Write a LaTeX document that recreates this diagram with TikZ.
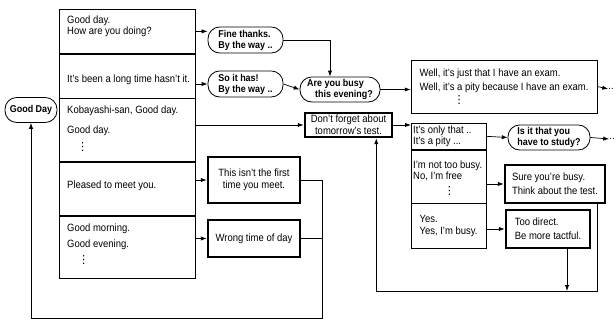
\documentclass[tikz,border=0pt]{standalone}
\usepackage{fontspec}
\setmainfont{Liberation Sans}[FakeStretch=0.9]
\newfontfamily\symfont{DejaVu Sans}
\usetikzlibrary{arrows.meta,calc,positioning}
\newcommand{\vdotsx}{{\symfont\fontsize{9.5}{10}\selectfont ⋮}}
\begin{document}
\begin{tikzpicture}[x=0.03cm,y=-0.03cm,
  every node/.style={font=\fontsize{9}{10}\selectfont,inner sep=0pt},
  cell/.style={draw,line width=0.6pt,anchor=north west},
  txt/.style={align=left},
  bubble/.style={draw,line width=0.7pt,rounded corners=0.35cm,align=left,font=\bfseries\fontsize{8.5}{9.5}\selectfont},
  warnbox/.style={draw,line width=2.2pt,align=center},
  arr/.style={-{Latex[length=5pt,width=3.6pt]},line width=0.6pt},
  link/.style={line width=0.6pt}]
\useasboundingbox (0,0) rectangle (616,321);
\node[cell,minimum width=4.08cm,minimum height=1.32cm] (r1) at (59,9) {};
\node[cell,minimum width=4.08cm,minimum height=1.32cm] (r2) at (r1.south west) {};
\node[cell,minimum width=4.08cm,minimum height=1.89cm] (r3) at (r2.south west) {};
\node[cell,minimum width=4.08cm,minimum height=1.59cm] (r4) at (r3.south west) {};
\node[cell,minimum width=4.08cm,minimum height=1.86cm] (r5) at (r4.south west) {};
\node[txt,right=0.24cm of r1.west,yshift=0.15cm] (t1) {Good day.\\How are you doing?};
\node[txt,right=0.24cm of r2.west,yshift=-0.12cm] (t2) {It's been a long time hasn't it.};
\node[txt,right=0.24cm of r3.west,yshift=0.05cm] (t3) {Kobayashi-san, Good day.\\[7pt]Good day.\\[4.5pt]\hspace*{0.3cm}\vdotsx};
\node[txt,right=0.24cm of r4.west,yshift=0.1cm] (t4) {Pleased to meet you.};
\node[txt,right=0.24cm of r5.west,yshift=0.1cm] (t5) {Good morning.\\[4pt]Good evening.\\[3.5pt]\hspace*{0.33cm}\vdotsx};
\node[bubble,align=center,minimum width=1.56cm,minimum height=0.75cm] (gd) at (31,110) {Good Day};
\node[bubble,minimum width=2.25cm,minimum height=0.78cm] (ft) at (245.5,40) {Fine thanks.\\By the way ..};
\node[bubble,minimum width=2.25cm,minimum height=0.78cm] (sh) at (245.5,84) {So it has!\\By the way ..};
\node[bubble,minimum width=2.4cm,minimum height=0.75cm] (ay) at (340,89.5) {Are you busy\\\hspace*{0.24cm}this evening?};
\node[warnbox,minimum width=2.61cm,minimum height=0.72cm] (df) at (348.5,125) {Don't forget about\\tomorrow's test.};
\node[draw,line width=0.6pt,align=left,minimum width=5.58cm,minimum height=1.59cm] (wb) at (504,86.5) {Well, it's just that I have an exam.\\[2pt]Well, it's a pity because I have an exam.\\[1pt]\hspace*{1.02cm}\vdotsx};
\node (d1) at (611,89) {..};
\node[cell,minimum width=2.25cm,minimum height=0.78cm] (ma) at (411,123) {};
\node[cell,minimum width=2.25cm,minimum height=1.59cm] (mb) at (ma.south west) {};
\node[cell,minimum width=2.25cm,minimum height=1.35cm] (mc) at (mb.south west) {};
\node[txt,right=0.06cm of ma.west] (ta) {It's only that ..\\It's a pity ...};
\node[txt,right=0.06cm of mb.west,yshift=-0.05cm] (tb) {I'm not too busy.\\No, I'm free\\[3pt]\hspace*{0.92cm}\vdotsx};
\node[txt,right=0.25cm of mc.west] (tc) {Yes.\\Yes, I'm busy.};
\node[bubble,minimum width=2.46cm,minimum height=0.75cm] (it) at (549,137.5) {Is it that you\\have to study?};
\node (d2) at (612,139) {..};
\node[warnbox,align=left,minimum width=3cm,minimum height=1.14cm] (sb) at (555,184) {Sure you're busy.\\[2pt]Think about the test.};
\node[warnbox,align=left,minimum width=2.52cm,minimum height=1.14cm] (td) at (548,229) {Too direct.\\[2pt]Be more tactful.};
\node[warnbox,minimum width=2.76cm,minimum height=1.38cm] (tf) at (254,180) {This isn't the first\\time you meet.};
\node[warnbox,minimum width=2.76cm,minimum height=1.11cm] (wt) at (254,238.5) {Wrong time of day};
\draw[arr] (r1.east) -- (r1.east -| ft.west);
\draw[arr] (sh.west -| r2.east) -- (sh.west);
\draw[arr] (df.west -| r3.east) -- (df.west);
\draw[arr] (tf.west -| r4.east) -- (tf.west);
\draw[arr] (wt.west -| r5.east) -- (wt.west);
\draw[arr] (ft.east) -| ([xshift=-0.3cm]ay.north);
\draw[arr] (sh.east) -- (ay.west);
\draw[arr] (ay.east) -- (ay.east -| wb.west);
\draw[arr] (wb.east) -- (d1.west);
\draw[arr] (df.east) -- (df.east -| ma.west);
\draw[arr] (ma.east) -- (it.west);
\draw[arr] (it.east) -- (d2.west);
\draw[arr] (sb.west -| mb.east) -- (sb.west);
\draw[arr] (td.west -| mc.east) -- (td.west);
\coordinate (lb) at (322,318);
\draw[arr] (tf.east) -| (lb) -| (gd.south);
\draw[link] (wt.east) -- (wt.east -| lb);
\coordinate (rb) at (597,291);
\draw[arr] (sb.south -| rb) -- (rb) -| ($(df.south east)+(-17,0)$);
\coordinate (tdo) at ($(td.south)+(19,0)$);
\draw[arr] (tdo) -- (tdo |- rb);
\end{tikzpicture}
\end{document}
